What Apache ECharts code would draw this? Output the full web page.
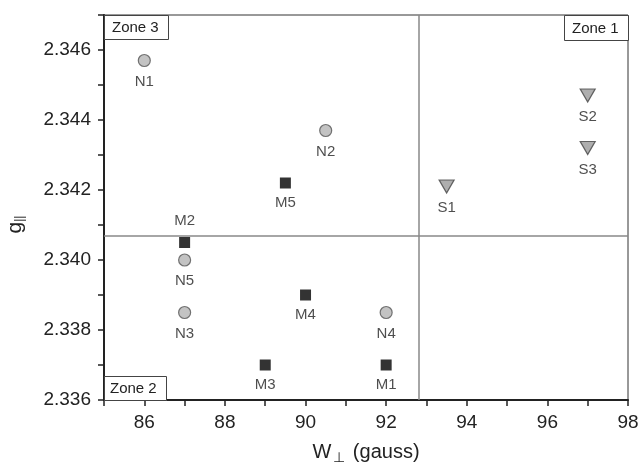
<!DOCTYPE html>
<html>
<head>
<meta charset="utf-8">
<script src="https://cdn.jsdelivr.net/npm/echarts@6/dist/echarts.min.js"></script>
<style>
  html, body { margin: 0; padding: 0; background: #fff; }
  #chart { width: 638px; height: 465px; }
</style>
</head>
<body>
<div id="chart"></div>
<script>
// N samples (grey circles)
const nNames = ['N1', 'N2', 'N3', 'N4', 'N5'];
const nX = [86, 90.5, 87, 92, 87];
const nY = [2.3457, 2.3437, 2.3385, 2.3385, 2.3400];

// M samples (black squares)
const mNames = ['M1', 'M2', 'M3', 'M4', 'M5'];
const mX = [92, 87, 89, 90, 89.5];
const mY = [2.3370, 2.3405, 2.3370, 2.3390, 2.3422];

// S samples (grey triangles)
const sNames = ['S1', 'S2', 'S3'];
const sX = [93.5, 97, 97];
const sY = [2.3421, 2.3447, 2.3432];

// zone boundaries
const zoneX = 92.82;
const zoneY = 2.3407;

const font = 'Liberation Sans, Arial, sans-serif';

function pts(names, xs, ys) {
  return names.map((n, i) => ({ name: n, value: [xs[i], ys[i]] }));
}

function pointLabel(pos) {
  return {
    show: true,
    position: pos,
    distance: 7,
    formatter: '{b}',
    color: '#222',
    fontSize: 15,
    fontFamily: font
  };
}

const chart = echarts.init(document.getElementById('chart'));

chart.setOption({
  animation: false,
  grid: {
    left: 104, right: 10, top: 15, bottom: 65,
    outerBoundsMode: 'none',
    show: true, borderColor: '#333', borderWidth: 1
  },
  xAxis: {
    type: 'value',
    min: 85, max: 98, interval: 1,
    name: '{a|W}{b|⊥}{a| (gauss)}',
    nameLocation: 'middle',
    nameGap: 39,
    nameTextStyle: {
      rich: {
        a: { fontSize: 20, fontFamily: font, color: '#222' },
        b: { fontSize: 14, fontFamily: font, color: '#222', padding: [12, 2, 0, 2] }
      }
    },
    axisLine: { onZero: false, lineStyle: { color: '#222', width: 2 } },
    axisTick: { length: 6, lineStyle: { color: '#222', width: 1.5 } },
    splitLine: { show: false },
    axisLabel: {
      color: '#222', fontSize: 19, fontFamily: font, margin: 13,
      formatter: v => (Math.round(v) % 2 === 0 ? String(Math.round(v)) : '')
    }
  },
  yAxis: {
    type: 'value',
    min: 2.336, max: 2.347, interval: 0.001,
    name: '{a|g}{b|||}',
    nameLocation: 'middle',
    nameGap: 78,
    nameTextStyle: {
      padding: [0, 34, 0, 0],
      rich: {
        a: { fontSize: 21, fontFamily: font, color: '#222' },
        b: { fontSize: 12, fontFamily: font, color: '#222', padding: [10, 0, 0, 0] }
      }
    },
    axisLine: { onZero: false, lineStyle: { color: '#222', width: 2 } },
    axisTick: { length: 6, lineStyle: { color: '#222', width: 1.5 } },
    splitLine: { show: false },
    axisLabel: {
      color: '#222', fontSize: 19, fontFamily: font, margin: 13,
      formatter: v => {
        const k = Math.round(v * 1000);
        return (k % 2 === 0 && k <= 2346) ? (k / 1000).toFixed(3) : '';
      }
    }
  },
  series: [
    {
      type: 'scatter',
      data: pts(nNames, nX, nY),
      symbol: 'circle',
      symbolSize: 12,
      itemStyle: { color: '#b4b4b4', borderColor: '#555', borderWidth: 1.2 },
      label: pointLabel('bottom'),
      markLine: {
        silent: true,
        symbol: 'none',
        precision: 5,
        label: { show: false },
        lineStyle: { color: '#888', width: 1.5, type: 'solid' },
        data: [{ xAxis: zoneX }, { yAxis: zoneY }]
      }
    },
    {
      type: 'scatter',
      data: pts(mNames, mX, mY),
      symbol: 'rect',
      symbolSize: 11,
      itemStyle: { color: '#000' },
      label: pointLabel('bottom'),
      labelLayout: p => (p.text === 'M2' ? { dy: -42 } : {})
    },
    {
      type: 'scatter',
      data: pts(sNames, sX, sY),
      symbol: 'triangle',
      symbolRotate: 180,
      symbolSize: [15, 13],
      itemStyle: { color: '#9a9a9a', borderColor: '#444', borderWidth: 1.2 },
      label: pointLabel('bottom')
    }
  ],
  graphic: [
    { type: 'rect', left: 104, top: 15, shape: { width: 64, height: 24 },
      style: { fill: '#fff', stroke: '#444', lineWidth: 1 }, z: 10 },
    { type: 'text', left: 112, top: 20, z: 11,
      style: { text: 'Zone 3', fontSize: 15, fontFamily: font, fill: '#222' } },
    { type: 'rect', left: 564, top: 15, shape: { width: 64, height: 25 },
      style: { fill: '#fff', stroke: '#444', lineWidth: 1 }, z: 10 },
    { type: 'text', left: 572, top: 21, z: 11,
      style: { text: 'Zone 1', fontSize: 15, fontFamily: font, fill: '#222' } },
    { type: 'rect', left: 104, top: 376, shape: { width: 62, height: 24 },
      style: { fill: '#fff', stroke: '#444', lineWidth: 1 }, z: 10 },
    { type: 'text', left: 110, top: 381, z: 11,
      style: { text: 'Zone 2', fontSize: 15, fontFamily: font, fill: '#222' } }
  ]
});
</script>
</body>
</html>
